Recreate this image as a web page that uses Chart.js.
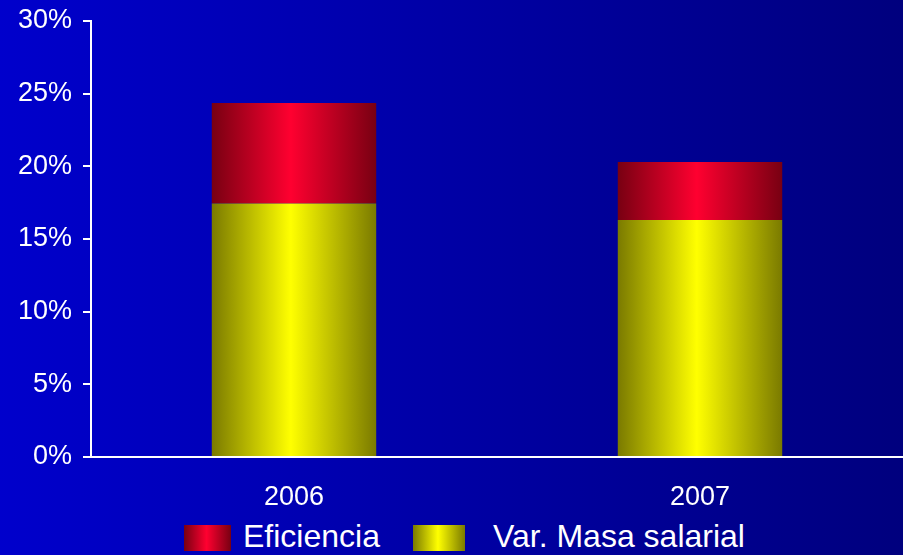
<!DOCTYPE html>
<html>
<head>
<meta charset="utf-8">
<script src="https://cdn.jsdelivr.net/npm/chart.js@4/dist/chart.umd.min.js"></script>
<style>
  html, body { margin: 0; padding: 0; }
  body {
    width: 903px; height: 555px; overflow: hidden; position: relative;
    background: linear-gradient(to right, #0000cc, #00007e);
    font-family: Arial, "Liberation Sans", sans-serif;
  }
  #wrap { position: absolute; left: 0; top: 0; width: 903px; height: 516px; }
  .legend { position: absolute; top: 524px; height: 27px; display: flex; align-items: center; }
  .box { width: 47px; height: 26px; }
  .lbl { color: #fff; font-size: 32px; line-height: 32px; white-space: nowrap; }
</style>
</head>
<body>
<div id="wrap"><canvas id="chart"></canvas></div>
<div class="legend" style="left:184px">
  <div class="box" style="background:linear-gradient(to right,#780012,#ff0030 48%,#780012)"></div>
</div>
<div class="lbl" style="position:absolute;left:243px;top:520px">Eficiencia</div>
<div class="legend" style="left:413px">
  <div class="box" style="width:52px;background:linear-gradient(to right,#7a7a00,#ffff00 48%,#7a7a00)"></div>
</div>
<div class="lbl" style="position:absolute;left:493px;top:520px">Var. Masa salarial</div>
<script>
const years = ['2006', '2007'];
const masaSalarial = [17.45, 16.3];
const eficiencia = [6.9, 4.0];
const yTicks = [0, 5, 10, 15, 20, 25, 30];

// horizontal "cylinder" gradients per bar
const barShades = {
    0: ['#7a7a00', '#ffff00'],
    1: ['#780012', '#ff0030']
};

const barGradient = {
    id: 'barGradient',
    beforeDatasetsDraw(chart) {
        const ctx = chart.ctx;
        chart.data.datasets.forEach((ds, i) => {
            const meta = chart.getDatasetMeta(i);
            const [edge, mid] = barShades[i];
            meta.data.forEach(el => {
                const l = el.x - el.width / 2, r = el.x + el.width / 2;
                const g = ctx.createLinearGradient(l, 0, r, 0);
                g.addColorStop(0, edge);
                g.addColorStop(0.48, mid);
                g.addColorStop(1, edge);
                el.options = Object.assign({}, el.options, { backgroundColor: g });
            });
        });
    }
};

const font = { family: 'Arial, "Liberation Sans", sans-serif', size: 27 };

new Chart(document.getElementById('chart'), {
    type: 'bar',
    data: {
        labels: years,
        datasets: [
            { label: 'Var. Masa salarial', data: masaSalarial, backgroundColor: '#ffff00', borderWidth: 0 },
            { label: 'Eficiencia', data: eficiencia, backgroundColor: '#ff0030', borderWidth: 0 }
        ]
    },
    options: {
        responsive: true,
        maintainAspectRatio: false,
        animation: false,
        layout: { padding: { top: 21, right: 0, bottom: 0, left: 0 } },
        datasets: { bar: { categoryPercentage: 1, barPercentage: 0.405 } },
        plugins: { legend: { display: false }, tooltip: { enabled: false } },
        scales: {
            x: {
                stacked: true,
                grid: { display: false, drawTicks: false },
                border: { color: '#ffffff', width: 2 },
                ticks: { color: '#ffffff', font: font, padding: 24 },
                afterFit: s => { s.height = 59; }
            },
            y: {
                stacked: true,
                min: 0,
                max: 30,
                afterBuildTicks: s => { s.ticks = yTicks.map(v => ({ value: v })); },
                grid: { drawOnChartArea: false, drawTicks: true, tickLength: 8, color: '#ffffff', lineWidth: 2 },
                border: { color: '#ffffff', width: 2 },
                ticks: { color: '#ffffff', font: font, padding: 11, callback: v => v + '%' },
                afterFit: s => { s.width = 91; s.paddingTop = 0; s.paddingBottom = 0; }
            }
        }
    },
    plugins: [barGradient]
});
</script>
</body>
</html>
